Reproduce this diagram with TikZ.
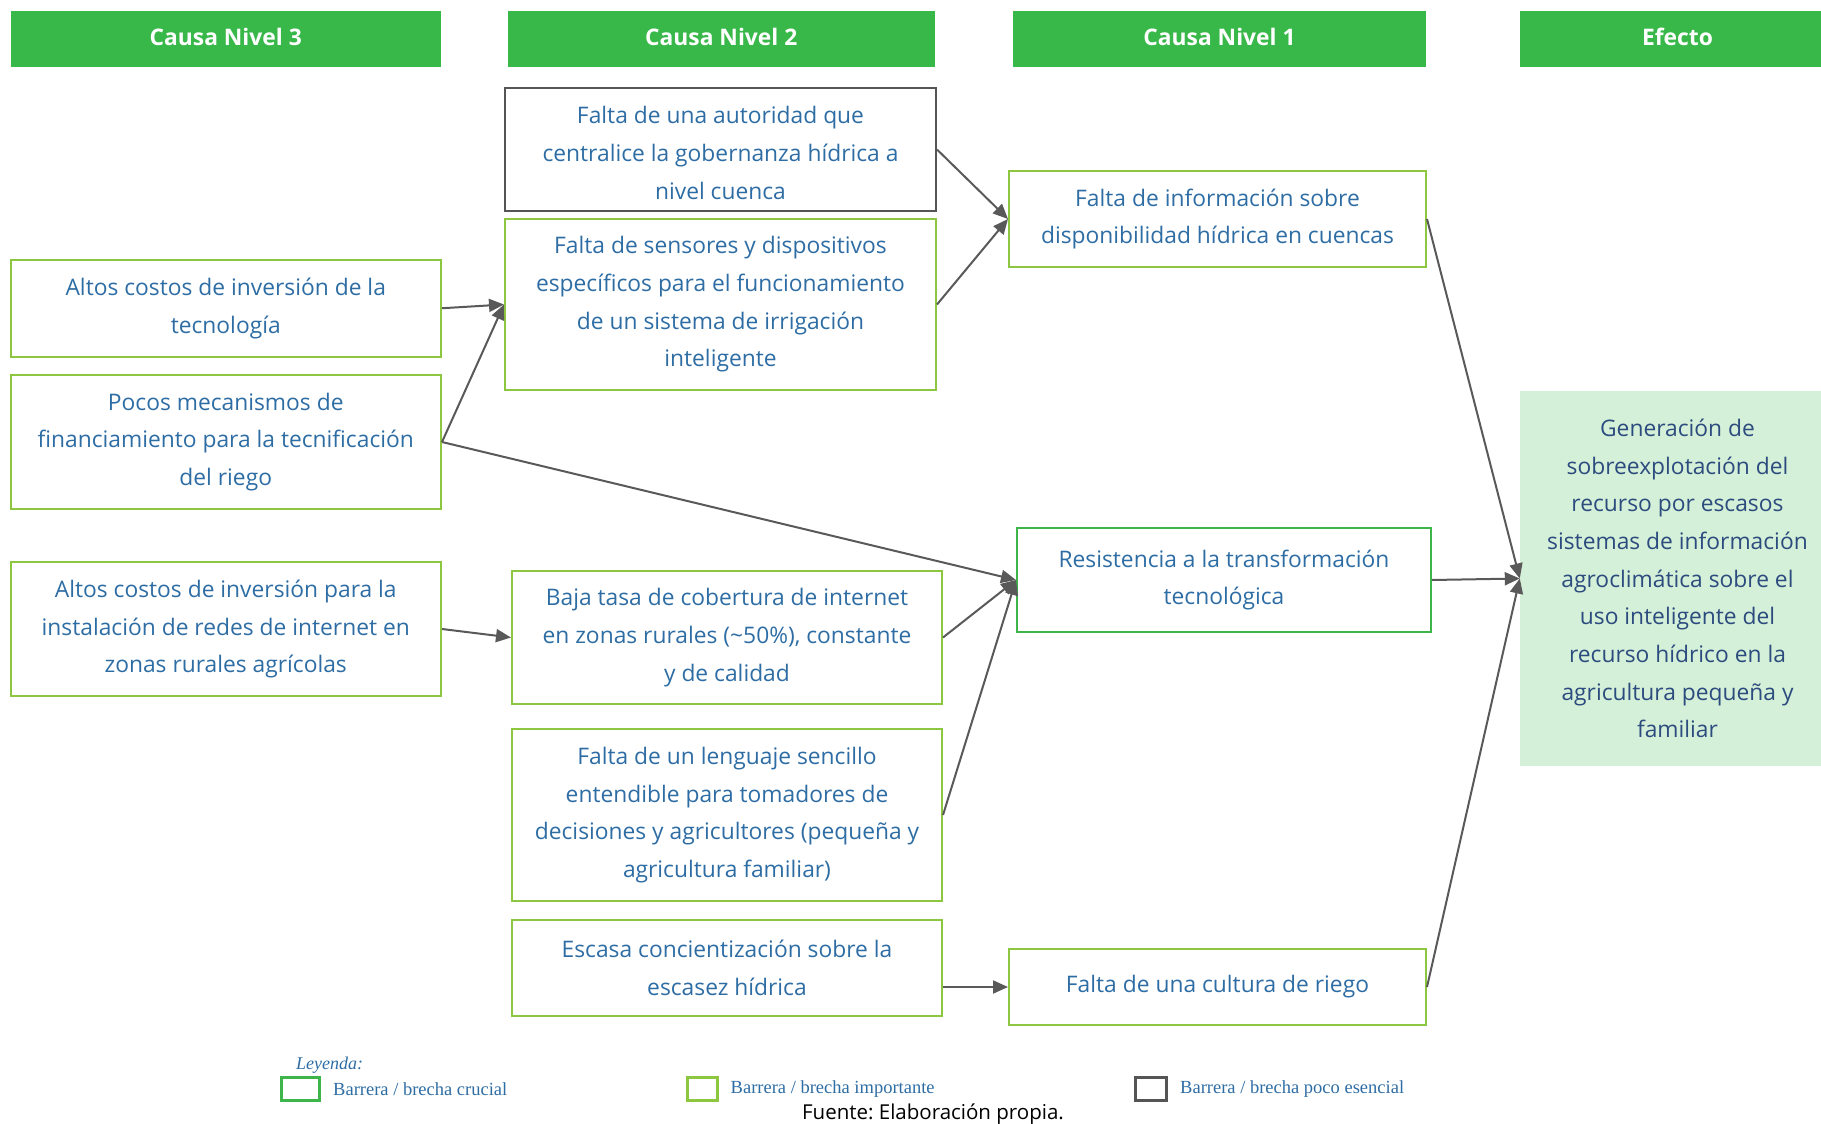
\documentclass[tikz,border=0pt]{standalone}
\usepackage{fontspec}
\setmainfont{Open Sans}
\newfontfamily\legfont{Liberation Serif}
\usetikzlibrary{arrows.meta}
\definecolor{hdrgreen}{HTML}{39B84A}
\definecolor{crucial}{HTML}{3DB54A}
\definecolor{importante}{HTML}{8DC63F}
\definecolor{pocoes}{HTML}{555555}
\definecolor{txtblue}{HTML}{2E6DA4}
\definecolor{effill}{HTML}{D5F0D8}
\definecolor{eftxt}{HTML}{2C4B7E}
\definecolor{arrgray}{HTML}{595959}
\tikzset{
  body/.style={font=\fontsize{22.8}{37.7}\selectfont, text=txtblue, align=center, inner sep=0pt},
  hdr/.style={fill=hdrgreen, minimum height=56pt, inner sep=0pt},
  hdrtxt/.style={text=white, font=\fontsize{22.8}{26}\selectfont\bfseries, inner sep=0pt},
  crucialbox/.style={body, draw=crucial, line width=2pt},
  impbox/.style={body, draw=importante, line width=2pt},
  pocobox/.style={body, draw=pocoes, line width=2pt},
  effbox/.style={body, fill=effill, text=eftxt},
  arr/.style={draw=arrgray, line width=2pt, -{Triangle[length=15pt,width=13pt]}},
  legtxt/.style={font=\legfont\fontsize{18.5}{20}\selectfont, text=txtblue, anchor=west, inner sep=0pt}
}
\begin{document}
\frenchspacing
\begin{tikzpicture}[x=1pt,y=-1pt]
\useasboundingbox (0,0) rectangle (1821,1124);
\clip (0,0) rectangle (1821,1124);
% headers
\node[hdr, minimum width=430.5pt] (h3) at (225.75,39.5) {};
\node[hdr, minimum width=427.5pt] (h2) at (721.25,39.5) {};
\node[hdr, minimum width=413pt] (h1) at (1219.5,39.5) {};
\node[hdr, minimum width=315pt] (hef) at (1677.5,39.5) {};
\node[hdrtxt] (h3t) at (225.75,37) {Causa Nivel 3};
\node[hdrtxt] (h2t) at (721.25,37) {Causa Nivel 2};
\node[hdrtxt] (h1t) at (1219.5,37) {Causa Nivel 1};
\node[hdrtxt] (heft) at (1677.5,37) {Efecto};
% level 2
\node[pocobox, minimum width=431pt, minimum height=123pt] (autoridad) at (720.5,149.5) {};
\node[body] (autoridadt) at (720.5,153)
  {Falta de una autoridad que\\centralice la gobernanza hídrica a\\nivel cuenca};
\node[impbox, minimum width=431pt, minimum height=171pt] (sensores) at (720.5,304.5)
  {Falta de sensores y dispositivos\\específicos para el funcionamiento\\de un sistema de irrigación\\inteligente};
\node[impbox, minimum width=430pt, minimum height=133pt] (baja) at (727,637.5)
  {Baja tasa de cobertura de internet\\en zonas rurales (\char`\~50\%), constante\\y de calidad};
\node[impbox, minimum width=430pt, minimum height=172pt] (lenguaje) at (727,815)
  {Falta de un lenguaje sencillo\\entendible para tomadores de\\decisiones y agricultores (pequeña y\\agricultura familiar)};
\node[impbox, minimum width=430pt, minimum height=96pt] (escasa) at (727,968)
  {Escasa concientización sobre la\\escasez hídrica};
% level 3
\node[impbox, minimum width=430.5pt, minimum height=96.5pt] (altostec) at (225.75,308.25)
  {Altos costos de inversión de la\\tecnología};
\node[impbox, minimum width=430.5pt, minimum height=134pt] (pocos) at (225.75,442)
  {Pocos mecanismos de\\financiamiento para la tecnificación\\del riego};
\node[impbox, minimum width=430.5pt, minimum height=134pt] (altosnet) at (225.75,629)
  {Altos costos de inversión para la\\instalación de redes de internet en\\zonas rurales agrícolas};
% level 1
\node[impbox, minimum width=417pt, minimum height=96pt] (info) at (1217.5,219)
  {Falta de información sobre\\disponibilidad hídrica en cuencas};
\node[crucialbox, minimum width=414pt, minimum height=104pt] (resist) at (1224,580)
  {Resistencia a la transformación\\tecnológica};
\node[impbox, minimum width=417pt, minimum height=76pt] (cultura) at (1217.5,987)
  {Falta de una cultura de riego};
% effect
\node[effbox, minimum width=315pt, minimum height=375pt] (efecto) at (1677.5,578.5)
  {Generación de\\sobreexplotación del\\recurso por escasos\\sistemas de información\\agroclimática sobre el\\uso inteligente del\\recurso hídrico en la\\agricultura pequeña y\\familiar};
% arrows
\draw[arr] (autoridad.east) -- (info.west);
\draw[arr] (sensores.east) -- (info.west);
\draw[arr] (altostec.east) -- (sensores.west);
\draw[arr] (pocos.east) -- (sensores.west);
\draw[arr] (pocos.east) -- (resist.west);
\draw[arr] (altosnet.east) -- (baja.west);
\draw[arr] (baja.east) -- (resist.west);
\draw[arr] (lenguaje.east) -- (resist.west);
\draw[arr] (escasa.east |- cultura.west) -- (cultura.west);
\draw[arr] (info.east) -- (efecto.west);
\draw[arr] (resist.east) -- (efecto.west);
\draw[arr] (cultura.east) -- (efecto.west);
% legend
\node[legtxt, font=\legfont\itshape\fontsize{18}{20}\selectfont] (leyenda) at (296,1065) {Leyenda:};
\node[draw=crucial, line width=3pt, minimum width=38pt, minimum height=23pt, inner sep=0pt] (lg1) at (300,1088.5) {};
\node[legtxt] (lt1) at (333,1089) {Barrera / brecha crucial};
\node[draw=importante, line width=3pt, minimum width=30pt, minimum height=23pt, inner sep=0pt] (lg2) at (702,1088.5) {};
\node[legtxt] (lt2) at (730.5,1089) {Barrera / brecha importante};
\node[draw=pocoes, line width=3pt, minimum width=31pt, minimum height=23pt, inner sep=0pt] (lg3) at (1150.5,1088.5) {};
\node[legtxt] (lt3) at (1180,1089) {Barrera / brecha poco esencial};
\node[font=\fontsize{20.5}{22}\selectfont, text=black, anchor=base, inner sep=0pt] (fuente) at (933,1119) {Fuente: Elaboración propia.};
\end{tikzpicture}
\end{document}
